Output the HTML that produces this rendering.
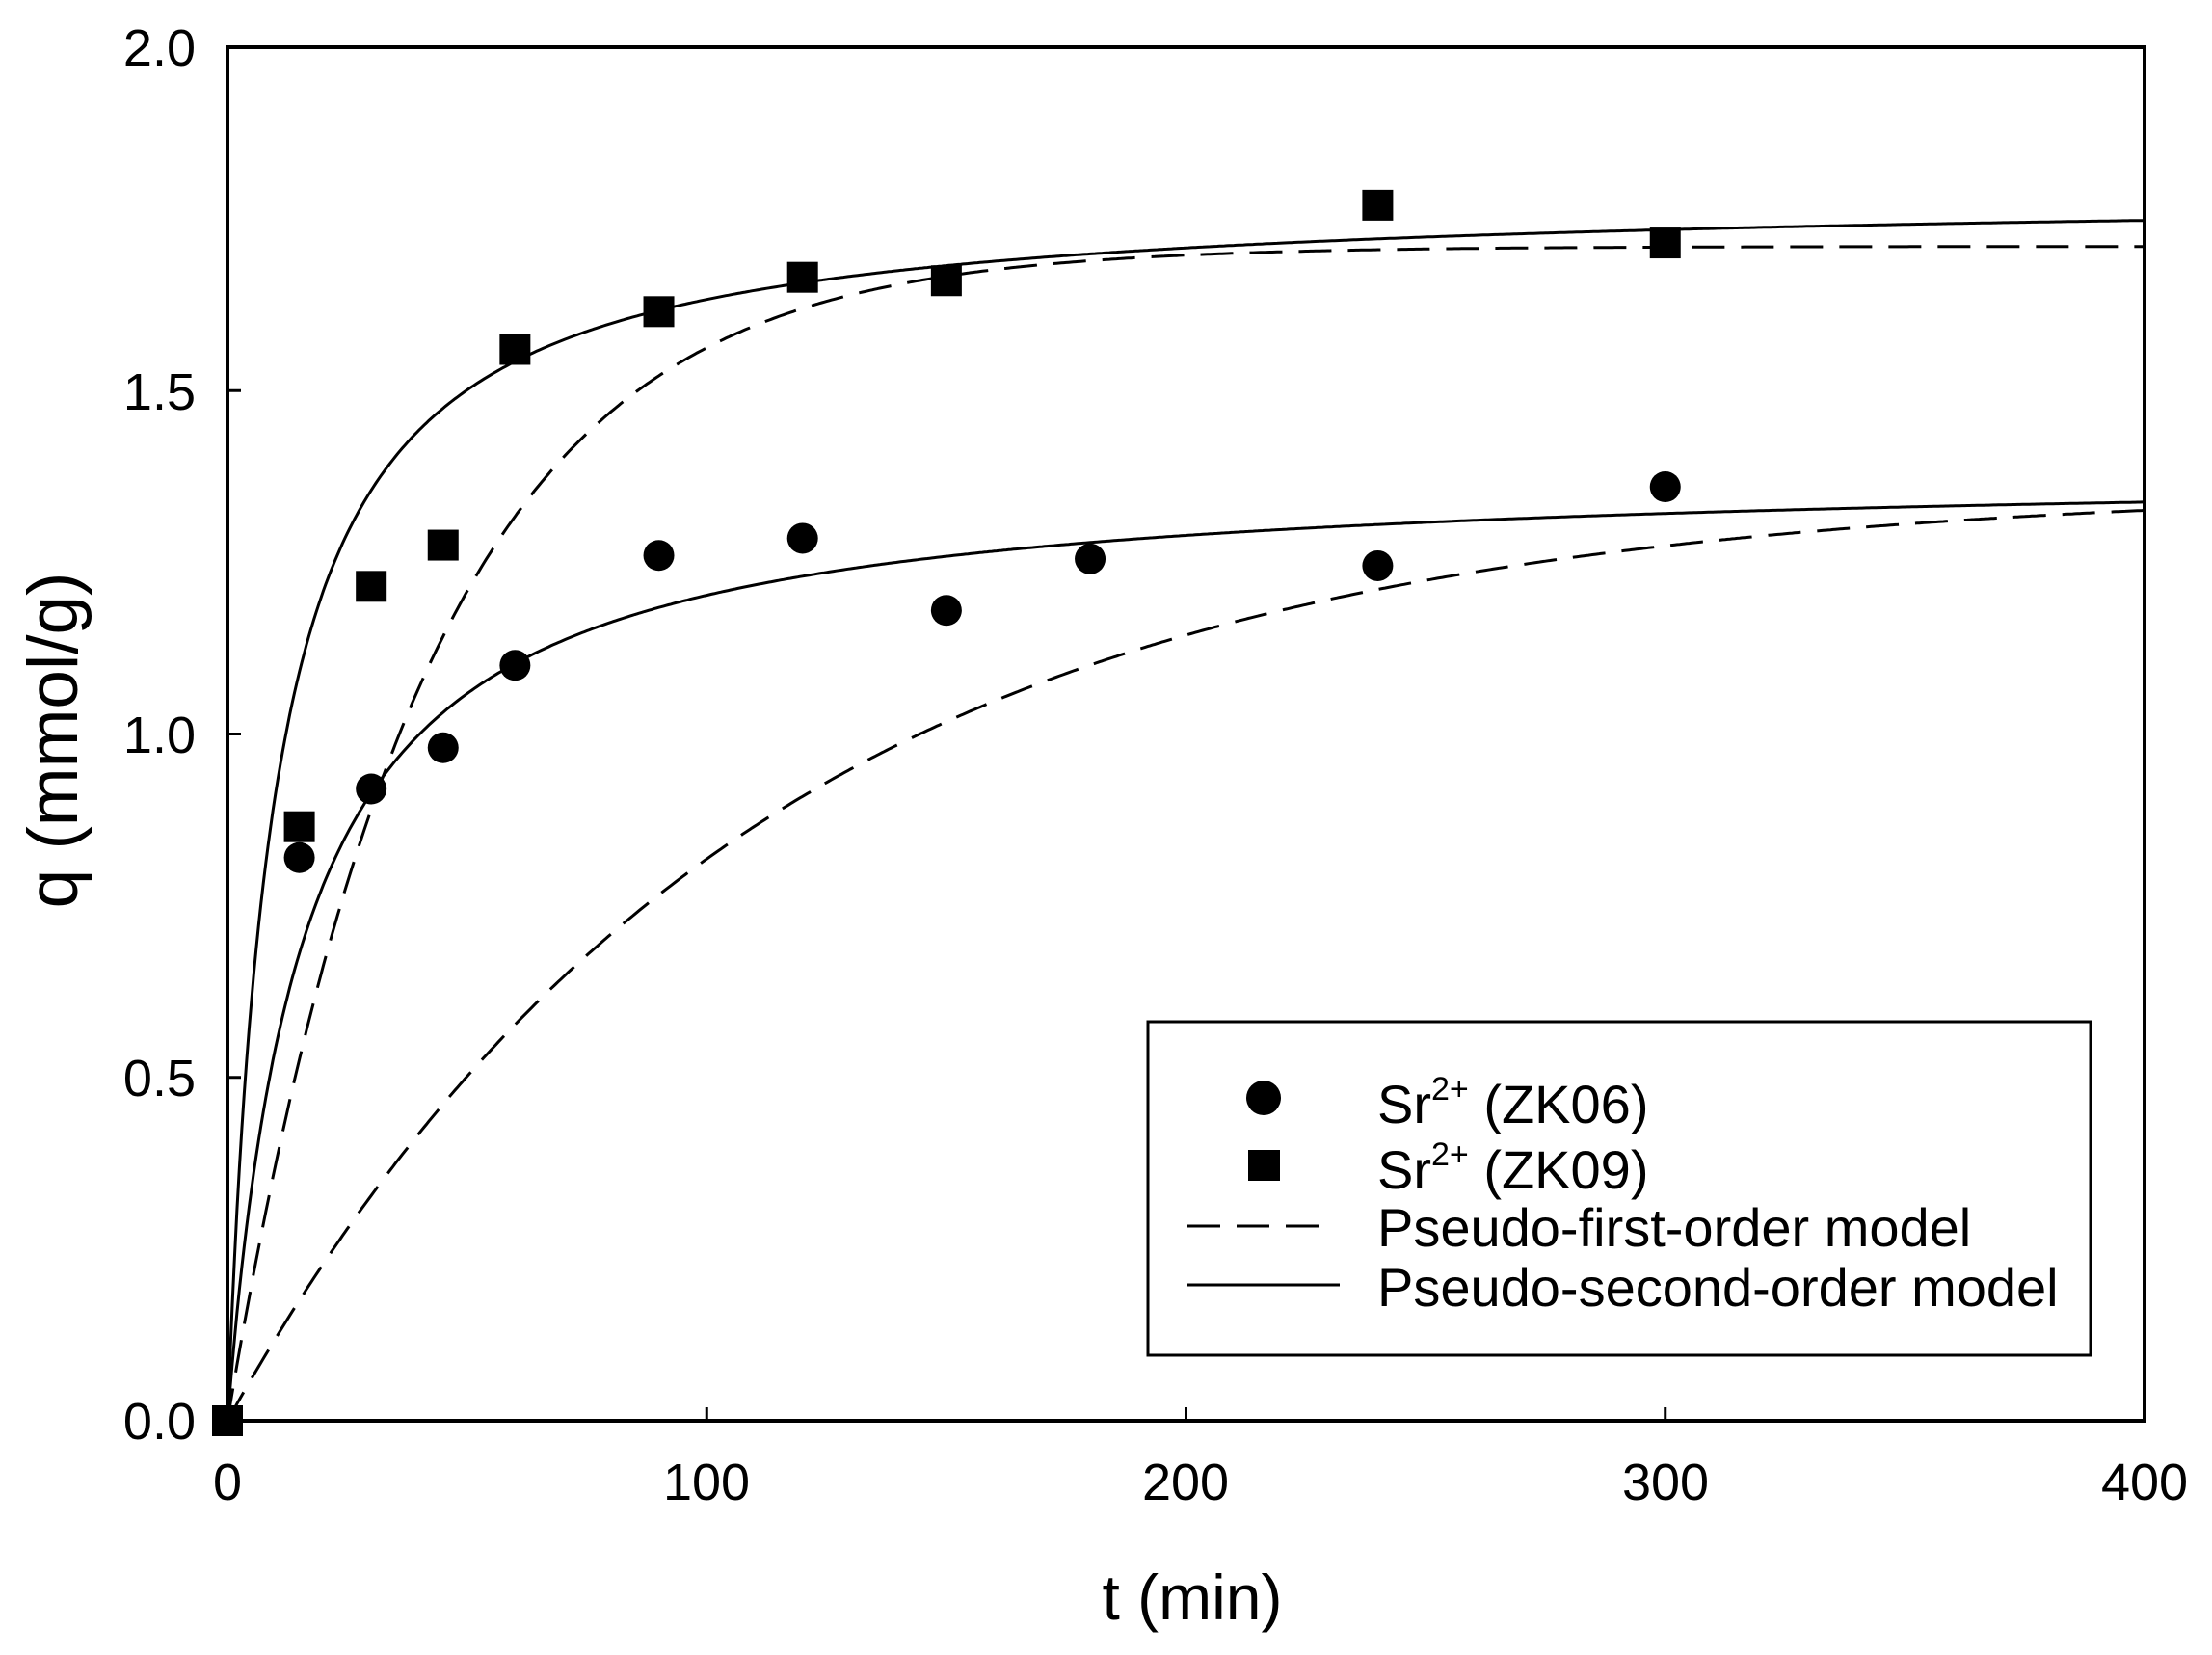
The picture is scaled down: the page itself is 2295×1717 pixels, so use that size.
<!DOCTYPE html>
<html><head><meta charset="utf-8"><style>
html,body{margin:0;padding:0;background:#fff;}
svg{display:block;font-family:"Liberation Sans",Arial,sans-serif;}
</style></head><body>
<svg id="s" width="2295" height="1717" viewBox="0 0 2295 1717" xmlns="http://www.w3.org/2000/svg">
<rect width="2295" height="1717" fill="#fff"/>
<g id="curves" fill="none" stroke="#000" stroke-width="3"></g>
<g id="marks" fill="#000"></g>
<rect x="236" y="49" width="1989" height="1425" fill="none" stroke="#000" stroke-width="4"/>
<g id="ticks" stroke="#000" stroke-width="3"></g>
<g font-size="54" fill="#000">
<text x="203" y="1493" text-anchor="end">0.0</text>
<text x="203" y="1137" text-anchor="end">0.5</text>
<text x="203" y="781" text-anchor="end">1.0</text>
<text x="203" y="425" text-anchor="end">1.5</text>
<text x="203" y="68" text-anchor="end">2.0</text>
<text x="236" y="1556" text-anchor="middle">0</text>
<text x="733" y="1556" text-anchor="middle">100</text>
<text x="1230" y="1556" text-anchor="middle">200</text>
<text x="1728" y="1556" text-anchor="middle">300</text>
<text x="2225" y="1556" text-anchor="middle">400</text>
</g>
<text x="1237" y="1680" font-size="66" text-anchor="middle">t (min)</text>
<text transform="translate(80,768) rotate(-90)" font-size="73" text-anchor="middle">q (mmol/g)</text>
<rect x="1191" y="1060" width="978" height="346" fill="#fff" stroke="#000" stroke-width="3"/>
<circle cx="1311" cy="1139" r="18" fill="#000"/>
<rect x="1295" y="1193" width="33" height="32" fill="#000"/>
<line x1="1232" y1="1272" x2="1376" y2="1272" stroke="#000" stroke-width="3" stroke-dasharray="34 17"/>
<line x1="1232" y1="1333" x2="1390" y2="1333" stroke="#000" stroke-width="3"/>
<g font-size="56" fill="#000">
<text x="1429" y="1165">Sr<tspan dy="-24" font-size="34">2+</tspan><tspan dy="24"> (ZK06)</tspan></text>
<text x="1429" y="1233">Sr<tspan dy="-24" font-size="34">2+</tspan><tspan dy="24"> (ZK09)</tspan></text>
<text x="1429" y="1293">Pseudo-first-order model</text>
<text x="1429" y="1355">Pseudo-second-order model</text>
</g>
</svg>
<script>
(function(){
var NS="http://www.w3.org/2000/svg";
function X(t){return 236+t*4.9725;}
function Y(q){return 1474-q*712.5;}
function path(f,dash){
 var d="";
 for(var i=0;i<=800;i++){var t=i*0.5;var q=f(t);d+=(i?"L":"M")+X(t).toFixed(1)+","+Y(q).toFixed(1);}
 var p=document.createElementNS(NS,"path");p.setAttribute("d",d);
 if(dash)p.setAttribute("stroke-dasharray","34 17");
 document.getElementById("curves").appendChild(p);
}
path(function(t){return 1.71*(1-Math.exp(-0.0245*t));},true);
path(function(t){return 1.36*(1-Math.exp(-0.0092*t));},true);
path(function(t){var x=1.79*0.058*t;return 1.79*x/(1+x);},false);
path(function(t){var x=1.39*0.046*t;return 1.39*x/(1+x);},false);
var m=document.getElementById("marks");
var c=[[0,0],[15,0.82],[30,0.92],[45,0.98],[60,1.10],[90,1.26],[120,1.285],[150,1.18],[180,1.255],[240,1.245],[300,1.36]];
var s=[[0,0],[15,0.865],[30,1.215],[45,1.275],[60,1.56],[90,1.615],[120,1.665],[150,1.66],[240,1.77],[300,1.715]];
c.forEach(function(p){var e=document.createElementNS(NS,"circle");e.setAttribute("cx",X(p[0]));e.setAttribute("cy",Y(p[1]));e.setAttribute("r",16);m.appendChild(e);});
s.forEach(function(p){var e=document.createElementNS(NS,"rect");e.setAttribute("x",X(p[0])-16);e.setAttribute("y",Y(p[1])-16);e.setAttribute("width",32);e.setAttribute("height",32);m.appendChild(e);});
var tk=document.getElementById("ticks");
function L(a,b,c2,d){var e=document.createElementNS(NS,"line");e.setAttribute("x1",a);e.setAttribute("y1",b);e.setAttribute("x2",c2);e.setAttribute("y2",d);tk.appendChild(e);}
[0.5,1,1.5].forEach(function(q){L(236,Y(q),250,Y(q));});
[100,200,300].forEach(function(t){L(X(t),1474,X(t),1460);});
})();
</script>
</body></html>
